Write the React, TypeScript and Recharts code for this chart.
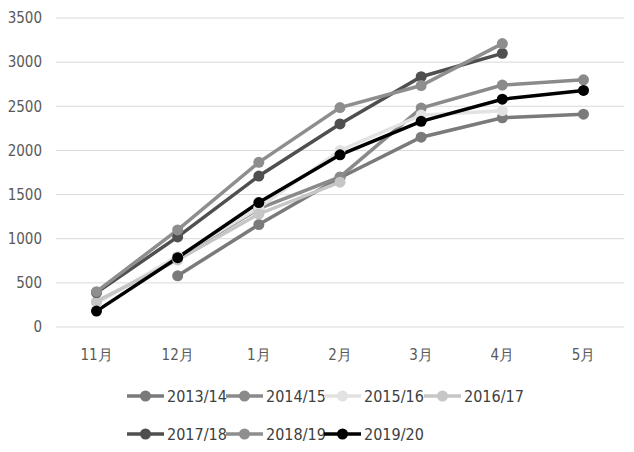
import { CartesianGrid, Line, LineChart, XAxis, YAxis } from "recharts";

const months = ["11月", "12月", "1月", "2月", "3月", "4月", "5月"];
const yTicks = [0, 500, 1000, 1500, 2000, 2500, 3000, 3500];

const s1314 = [null, 580, 1160, 1690, 2150, 2370, 2410];
const s1415 = [null, 790, 1340, 1700, 2480, 2740, 2800];
const s1516 = [270, 800, 1350, 2000, 2400, 2450, null];
const s1617 = [290, 760, 1280, 1640, null, null, null];
const s1718 = [390, 1020, 1710, 2300, 2835, 3100, null];
const s1819 = [400, 1100, 1865, 2485, 2735, 3210, null];
const s1920 = [180, 785, 1410, 1950, 2330, 2580, 2680];

const series = [
  { key: "2013/14", values: s1314, color: "#7a7a7a" },
  { key: "2014/15", values: s1415, color: "#8a8a8a" },
  { key: "2015/16", values: s1516, color: "#e2e2e2" },
  { key: "2016/17", values: s1617, color: "#c6c6c6" },
  { key: "2017/18", values: s1718, color: "#4f4f4f" },
  { key: "2018/19", values: s1819, color: "#8e8e8e" },
  { key: "2019/20", values: s1920, color: "#000000" },
];

const data = months.map((m, i) => {
  const row: Record<string, string | number | null> = { month: m };
  series.forEach((s) => {
    row[s.key] = s.values[i];
  });
  return row;
});

const font = "'DejaVu Sans Condensed', 'Liberation Sans Narrow', 'DejaVu Sans', sans-serif";

// legend sits under the plot like the excel original, 4 items per row
function LegendBox() {
  const colX = [127, 226, 324, 424];
  const rowY = [396, 434];
  return (
    <>
      {series.map((s, i) => (
        <div
          key={s.key}
          style={{
            position: "absolute",
            left: colX[i % 4],
            top: rowY[Math.floor(i / 4)] - 10,
            height: 20,
            display: "flex",
            alignItems: "center",
            fontFamily: font,
            fontSize: 16,
            color: "#404040",
            whiteSpace: "nowrap",
          }}
        >
          <svg width={37} height={14} style={{ marginRight: 3 }}>
            <line x1={0} y1={7} x2={37} y2={7} stroke={s.color} strokeWidth={3.5} />
            <circle cx={18.5} cy={7} r={5.5} fill={s.color} />
          </svg>
          {s.key}
        </div>
      ))}
    </>
  );
}

export default function App() {
  return (
    <div style={{ margin: -8, width: 634, height: 452, background: "#fff", position: "relative" }}>
      <LineChart
        width={634}
        height={452}
        data={data}
        margin={{ top: 18, right: 10, bottom: 95, left: 0 }}
      >
        <CartesianGrid vertical={false} stroke="#d9d9d9" strokeWidth={1} />
        <XAxis
          dataKey="month"
          height={30}
          axisLine={false}
          tickLine={false}
          tickMargin={16}
          padding={{ left: 40.5, right: 40.5 }}
          tick={{ fill: "#595959", fontSize: 15, fontFamily: font }}
          interval={0}
        />
        <YAxis
          width={56}
          domain={[0, 3500]}
          ticks={yTicks}
          axisLine={false}
          tickLine={false}
          tickMargin={8}
          tick={{ fill: "#595959", fontSize: 15, fontFamily: font }}
        />
        {series.map((s) => (
          <Line
            key={s.key}
            dataKey={s.key}
            stroke={s.color}
            strokeWidth={3.5}
            dot={{ r: 5.5, fill: s.color, stroke: s.color, strokeWidth: 0 }}
            activeDot={false}
            isAnimationActive={false}
            connectNulls={false}
          />
        ))}
      </LineChart>
      <LegendBox />
    </div>
  );
}
